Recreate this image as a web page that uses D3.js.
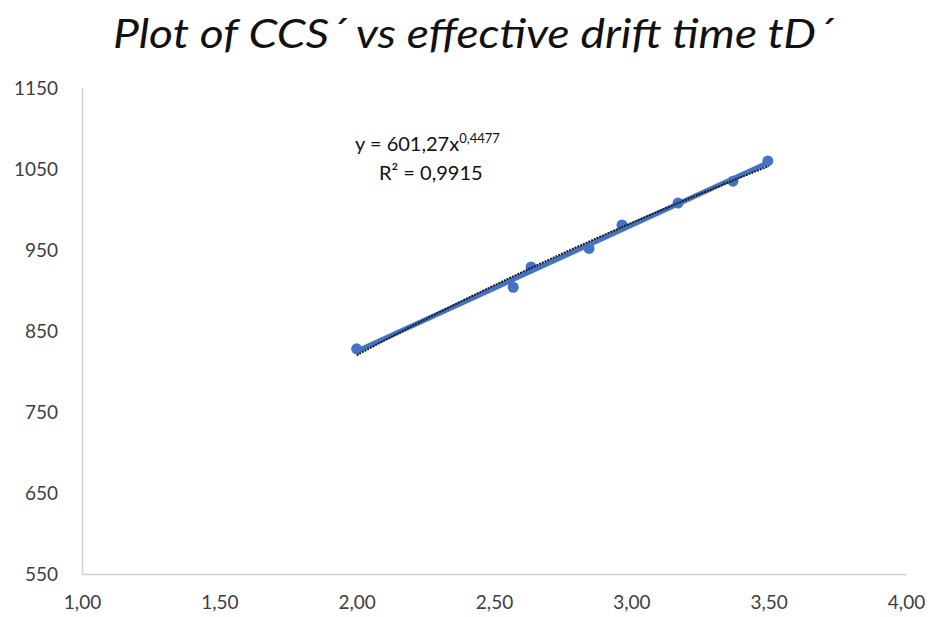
<!DOCTYPE html>
<html>
<head>
<meta charset="utf-8">
<script src="https://cdn.jsdelivr.net/npm/d3@7"></script>
<style>
  body { margin: 0; background: #fff; }
  text { font-family: Lato, "Open Sans", sans-serif; }
</style>
</head>
<body>
<div id="chart"></div>
<script>

// drift time tD' and CCS' values
let driftTime = [2.00, 2.57, 2.635, 2.846, 2.966, 3.17, 3.37, 3.497];
let ccs = [828, 904, 929, 952, 981, 1008, 1035, 1060];
let xTicks = [1.00, 1.50, 2.00, 2.50, 3.00, 3.50, 4.00];
let yTicks = [550, 650, 750, 850, 950, 1050, 1150];
let fitA = 601.27, fitB = 0.4477;

let svgWidth = 929, svgHeight = 617;
let margin = {top: 88, right: 23, bottom: 43, left: 82};
let width = svgWidth - margin.left - margin.right,
    height = svgHeight - margin.top - margin.bottom;

let x = d3.scaleLinear().domain([1, 4]).range([0, width]);
let y = d3.scaleLinear().domain([550, 1150]).range([height, 0]);
let fmt = function(d) { return d3.format(".2f")(d).replace(".", ","); };

let svg = d3.select("#chart").append("svg")
    .attr("width", svgWidth)
    .attr("height", svgHeight);

svg.append("text")
    .attr("x", 473)
    .attr("y", 48)
    .attr("text-anchor", "middle")
    .attr("font-style", "italic")
    .attr("font-size", "41px")
    .attr("textLength", 720)
    .attr("lengthAdjust", "spacingAndGlyphs")
    .attr("fill", "#111")
    .text("Plot of CCS\u00b4 vs effective drift time tD\u00b4");

let g = svg.append("g")
    .attr("transform", "translate(" + margin.left + "," + margin.top + ")");

// axes
let xAxis = g.append("g")
    .attr("transform", "translate(0," + height + ")")
    .call(d3.axisBottom(x).tickValues(xTicks).tickFormat(fmt).tickSize(0).tickPadding(22));
let yAxis = g.append("g")
    .call(d3.axisLeft(y).tickValues(yTicks).tickFormat(d3.format("d")).tickSize(0).tickPadding(24));

[xAxis, yAxis].forEach(function(a) {
    a.select(".domain").attr("stroke", "#d0d0d0").attr("stroke-width", 1.5);
    a.selectAll("text").attr("font-size", "19px").attr("fill", "#404040")
        .attr("font-family", "Lato, sans-serif");
});

// straight blue fit through the points (least squares)
let mx = d3.mean(driftTime), my = d3.mean(ccs);
let sxy = d3.sum(driftTime, function(d, i) { return (d - mx) * (ccs[i] - my); });
let sxx = d3.sum(driftTime, function(d) { return (d - mx) * (d - mx); });
let slope = sxy / sxx, icpt = my - slope * mx;
let xEnds = d3.extent(driftTime);

g.append("path")
    .datum(xEnds)
    .attr("fill", "none")
    .attr("stroke", "#4472C4")
    .attr("stroke-width", 5)
    .attr("d", d3.line()
        .x(function(d) { return x(d); })
        .y(function(d) { return y(icpt + slope * d); }));

g.selectAll(".dot")
    .data(ccs)
    .enter()
    .append("circle")
    .attr("class", "dot")
    .attr("cx", function(d, i) { return x(driftTime[i]); })
    .attr("cy", function(d) { return y(d); })
    .attr("r", 5.5)
    .attr("fill", "#4472C4");

// power trendline
let fitX = d3.range(0, 31).map(function(i) { return 2.0 + i * 0.05; });
let trend = d3.line()
    .x(function(d) { return x(d); })
    .y(function(d) { return y(fitA * Math.pow(d, fitB)); });

g.append("path")
    .datum(fitX)
    .attr("fill", "none")
    .attr("stroke", "#1a1a1a")
    .attr("stroke-width", 2)
    .attr("stroke-dasharray", "2,1")
    .attr("d", trend);

// equation label
let eq = svg.append("text")
    .attr("x", 355)
    .attr("y", 151)
    .attr("font-size", "20px")
    .attr("fill", "#111");
eq.append("tspan").text("y = 601,27x");
eq.append("tspan").attr("font-size", "13px").attr("dy", -8).text("0,4477");

svg.append("text")
    .attr("x", 379)
    .attr("y", 180)
    .attr("font-size", "20px")
    .attr("fill", "#111")
    .text("R\u00b2 = 0,9915");

</script>
</body>
</html>
